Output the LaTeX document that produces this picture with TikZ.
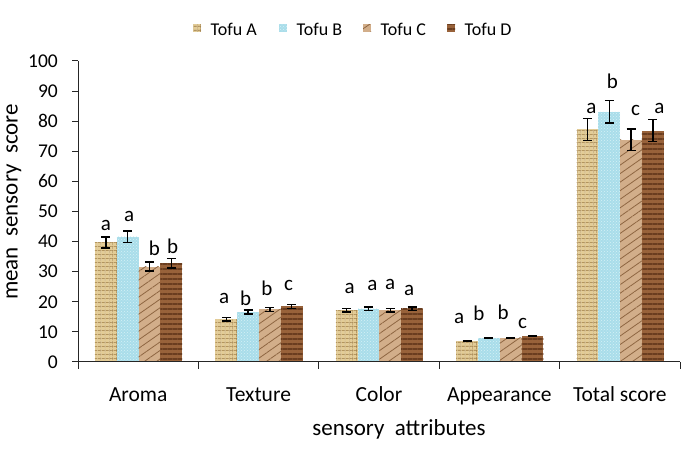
\documentclass[tikz,border=0pt]{standalone}
\usepackage{fontspec}
\setmainfont{Carlito}
\usetikzlibrary{patterns,patterns.meta,arrows.meta}

\definecolor{tofuAfill}{HTML}{E3CC96}
\definecolor{tofuAline}{HTML}{9A7840}
\definecolor{tofuBfill}{HTML}{A9DDEA}
\definecolor{tofuBline}{HTML}{D6F1F6}
\definecolor{tofuCfill}{HTML}{D2AE8A}
\definecolor{tofuCline}{HTML}{8E6642}
\definecolor{tofuDfill}{HTML}{98623A}
\definecolor{tofuDline}{HTML}{6A3D1F}

\tikzset{
  tofu0/.style={fill=tofuAfill,
    postaction={pattern={Lines[angle=0,distance=4pt,line width=0.8pt]}, pattern color=tofuAline},
    postaction={pattern={Lines[angle=90,distance=4pt,line width=0.6pt]}, pattern color=tofuAline}},
  tofu1/.style={fill=tofuBfill, postaction={pattern=crosshatch dots, pattern color=tofuBline}},
  tofu2/.style={fill=tofuCfill, postaction={pattern={Lines[angle=35,distance=7pt,line width=0.8pt]}, pattern color=tofuCline}},
  tofu3/.style={fill=tofuDfill, postaction={pattern={Lines[angle=0,distance=5pt,line width=1.2pt]}, pattern color=tofuDline}},
  axisline/.style={draw=black!85, line width=1pt},
  errbar/.style={black, line width=1.4pt, {Bar[width=9pt,line width=1.4pt]}-{Bar[width=9pt,line width=1.4pt]}},
  ticklab/.style={font=\fontsize{19.5}{22}\selectfont, anchor=east, inner sep=0pt},
  catlab/.style={font=\fontsize{21.5}{24}\selectfont, anchor=base, inner sep=0pt},
  siglab/.style={font=\fontsize{21}{24}\selectfont, inner sep=0pt},
  leglab/.style={font=\fontsize{18}{20}\selectfont, anchor=base west, inner sep=0pt},
  titlelab/.style={font=\fontsize{23}{26}\selectfont, inner sep=0pt}
}

\begin{document}
\begin{tikzpicture}[x=1pt,y=1pt]
\useasboundingbox (0,0) rectangle (700,454);

\begin{scope}[shift={(78,92)}, x=120.4pt, y=3.01pt]
  \foreach \c/\k/\v/\e/\l/\ly/\dx in {
      0/0/39.7/2.0/a/45.5/0,   0/1/41.6/2.2/a/48.5/1.5, 0/2/31.7/1.7/b/37.7/5,    0/3/32.8/1.8/b/38.6/1.5,
      1/0/14.2/0.8/a/21.0/-2,  1/1/16.6/0.9/b/21.1/-2.5, 1/2/17.5/0.9/b/24.4/-3,  1/3/18.5/0.9/c/25.4/-3,
      2/0/17.2/0.8/a/24.3/3,   2/1/17.7/0.8/a/25.4/4,   2/2/17.2/0.8/a/25.7/0,    2/3/17.7/0.8/a/23.8/-3,
      3/0/6.9/0.4/a/14.4/-8,   3/1/7.9/0.4/b/16.1/-10,  3/2/8.0/0.4/b/16.6/-7.5,  3/3/8.7/0.4/c/12.8/-10,
      4/0/77.3/3.9/a/84.3/4,   4/1/83.2/4.0/b/93.1/3,   4/2/73.8/3.8/c/83.4/4.5,  4/3/76.9/3.9/a/84.3/6.5}
  {
    \fill[tofu\k] ({\c+0.141+\k*0.181},0) rectangle ++(0.181,\v);
    \draw[errbar] ({\c+0.2315+\k*0.181},{\v-\e}) -- ({\c+0.2315+\k*0.181},{\v+\e});
    \node[siglab, xshift=\dx pt] (sig\c\k) at ({\c+0.2315+\k*0.181},\ly) {\l};
  }

  \draw[axisline] (0,0) -- (0,100);
  \draw[axisline] (0,0) -- (5,0);
  \foreach \t in {0,10,...,100} {
    \draw[axisline] (0,\t) -- ++(-6pt,0);
    \node[ticklab] (tick\t) at ([xshift=-20pt]0,\t) {\t};
  }
  \foreach \i in {0,...,5}
    \draw[axisline] (\i,0) -- ++(0,-7pt);

  \foreach \i/\name in {0/Aroma,1/Texture,2/Color,3/Appearance,4/Total score}
    \node[catlab] (cat\i) at ([yshift=-40pt]\i+0.5,0) {\name};
\end{scope}

\node[titlelab, anchor=base] (xtitle) at (399,18) {sensory\ \ attributes};
\node[titlelab, rotate=90] (ytitle) at (14,252) {mean\ \ sensory\ \ score};

\foreach \k/\x/\name in {0/193/Tofu A,1/279/Tofu B,2/363/Tofu C,3/447/Tofu D} {
  \fill[tofu\k] (\x,422) rectangle ++(8,7.5);
  \node[leglab] (leg\k) at (\x+17.5,418.3) {\name};
}
\end{tikzpicture}
\end{document}
